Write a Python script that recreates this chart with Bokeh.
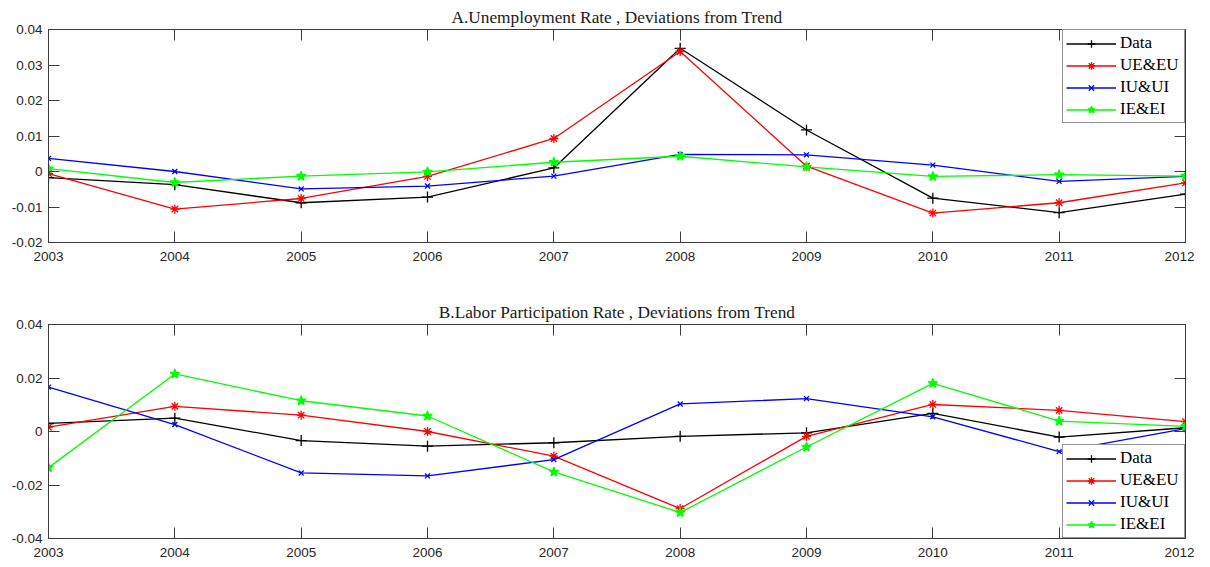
from bokeh.plotting import figure
from bokeh.layouts import column
from bokeh.models import (FixedTicker, LinearAxis, CustomJSTickFormatter, Title,
                          Legend, LegendItem, Range1d)
from bokeh.embed import file_html
from bokeh.resources import INLINE

years = [2003, 2004, 2005, 2006, 2007, 2008, 2009, 2010, 2011, 2012]
series_names = ["Data", "UE&EU", "IU&UI", "IE&EI"]

# Panel A: Unemployment rate deviations
unemp_data = [-0.0017, -0.0037, -0.0088, -0.0072, 0.0010, 0.0347, 0.0117, -0.0075, -0.0116, -0.0064]
unemp_ueeu = [-0.0006, -0.0106, -0.0076, -0.0014, 0.0093, 0.0338, 0.0015, -0.0117, -0.0088, -0.0032]
unemp_iuui = [0.0037, 0.0000, -0.0049, -0.0041, -0.0013, 0.0048, 0.0047, 0.0018, -0.0028, -0.0014]
unemp_ieei = [0.0008, -0.0031, -0.0013, -0.0001, 0.0026, 0.0043, 0.0013, -0.0014, -0.0009, -0.0013]
unemp_yticks = [-0.02, -0.01, 0.0, 0.01, 0.02, 0.03, 0.04]

# Panel B: Labor participation rate deviations
part_data = [0.0030, 0.0050, -0.0034, -0.0055, -0.0042, -0.0018, -0.0005, 0.0068, -0.0021, 0.0014]
part_ueeu = [0.0016, 0.0094, 0.0061, 0.0000, -0.0092, -0.0288, -0.0018, 0.0101, 0.0079, 0.0037]
part_iuui = [0.0166, 0.0026, -0.0155, -0.0166, -0.0105, 0.0103, 0.0123, 0.0055, -0.0075, 0.0011]
part_ieei = [-0.0135, 0.0215, 0.0115, 0.0058, -0.0151, -0.0303, -0.0058, 0.0180, 0.0039, 0.0019]
part_yticks = [-0.04, -0.02, 0.0, 0.02, 0.04]

colors = ["#000000", "#ff0000", "#0000ff", "#00ff00"]
markers = ["cross", "asterisk", "x", "star"]
msizes = [11, 9, 7, 10]

AX = "#3a3a3a"
TXT = "#262626"


def make_panel(title, series, yticks, legend_loc, height, border_top, border_bottom):
    p = figure(width=1194, height=height, output_backend="svg", toolbar_location=None,
               x_range=Range1d(years[0], years[-1]),
               y_range=Range1d(yticks[0], yticks[-1]),
               min_border_left=48, min_border_right=9,
               min_border_top=border_top, min_border_bottom=border_bottom,
               x_axis_location=None, y_axis_location=None)
    p.grid.visible = False
    p.outline_line_color = AX
    p.outline_line_width = 1
    p.background_fill_color = "white"
    p.border_fill_color = "white"

    def style(ax, standoff):
        ax.axis_line_color = AX
        ax.major_tick_line_color = AX
        ax.major_tick_in = 11
        ax.major_tick_out = 0
        ax.minor_tick_line_color = None
        ax.major_label_text_font = "Liberation Sans"
        ax.major_label_text_color = TXT
        ax.major_label_text_font_size = "13.5px"
        ax.major_label_standoff = standoff

    blank = CustomJSTickFormatter(code="return '';")
    xb = LinearAxis(ticker=FixedTicker(ticks=years))
    style(xb, 9)
    p.add_layout(xb, "below")
    xt = LinearAxis(ticker=FixedTicker(ticks=years), formatter=blank)
    style(xt, 0)
    p.add_layout(xt, "above")
    yl = LinearAxis(ticker=FixedTicker(ticks=yticks),
                    formatter=CustomJSTickFormatter(code="return tick == 0 ? '0' : tick.toFixed(2);"))
    style(yl, 6)
    p.add_layout(yl, "left")
    yr = LinearAxis(ticker=FixedTicker(ticks=yticks), formatter=blank)
    style(yr, 0)
    p.add_layout(yr, "right")

    items = []
    for name, vals, c, m, s in zip(series_names, series, colors, markers, msizes):
        r1 = p.line(years, vals, line_color=c, line_width=1.3)
        r2 = p.scatter(years, vals, marker=m, size=s, line_color=c, fill_color=c, line_width=1.3)
        items.append(LegendItem(label=name, renderers=[r1, r2]))

    leg = Legend(items=items, location=legend_loc, margin=0, padding=3,
                 spacing=2, glyph_width=50, glyph_height=19, label_height=19,
                 label_width=61, label_standoff=4, label_text_font="Liberation Serif",
                 label_text_font_size="17px", label_text_color="#000000",
                 border_line_color="#262626", border_line_width=1,
                 background_fill_color="white", background_fill_alpha=1.0)
    p.add_layout(leg)

    t = Title(text=title, align="center", text_font="Liberation Serif",
              text_font_size="17.3px", text_font_style="normal",
              text_color="#1a1a1a", standoff=5)
    p.add_layout(t, "above")
    return p


pA = make_panel("A.Unemployment Rate , Deviations from Trend",
                [unemp_data, unemp_ueeu, unemp_iuui, unemp_ieei],
                unemp_yticks, "top_right", 290, 29, 48)
pB = make_panel("B.Labor Participation Rate , Deviations from Trend",
                [part_data, part_ueeu, part_iuui, part_ieei],
                part_yticks, "bottom_right", 274, 34, 26)

layout = column(pA, pB, spacing=0)
open("out.html", "w").write(file_html(layout, INLINE))
